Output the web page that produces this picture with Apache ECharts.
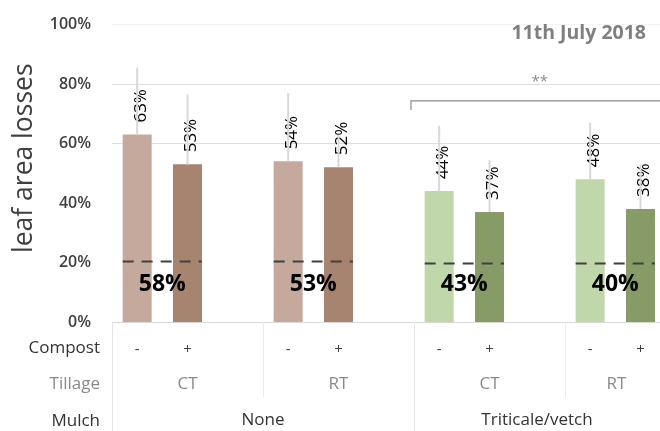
<!DOCTYPE html>
<html>
<head>
<meta charset="utf-8">
<script src="https://cdn.jsdelivr.net/npm/echarts@6/dist/echarts.min.js"></script>
<style>
  html, body { margin: 0; padding: 0; background: #fff; overflow: hidden; }
  /* the last spacer slot runs past the right edge of the window */
  #chart { width: 716px; height: 431px; }
</style>
</head>
<body>
<div id="chart"></div>
<script>
// Slots along the x axis: two bars per tillage group plus one spacer slot
const compost = ['-', '+', '', '-', '+', '', '-', '+', '', '-', '+', ''];
const tillage = ['CT', 'RT', 'CT', 'RT'];
const mulch = ['None', 'Triticale/vetch'];

// Leaf area losses (%) per slot, with the top of each error whisker
const losses = [63, 53, null, 54, 52, null, 44, 37, null, 48, 38, null];
const errorTop = [85.5, 76.5, null, 77, 63, null, 66, 54.5, null, 67, 53, null];
const barColors = ['#c4a99c', '#a6846f', null, '#c4a99c', '#a6846f', null,
                   '#c0d6ab', '#869b65', null, '#c0d6ab', '#869b65', null];

// Per tillage group: dashed reference level and the group summary text
const refLevel = [20.3, 20.3, 19.7, 19.7];
const groupText = ['58%', '53%', '43%', '40%'];
const groupTextLevel = 12.5;

// Significance bracket over the mulched plots
const bracketSlots = [6, 11];
const bracketLevels = [74.3, 71.3];
const sigText = '**';
const sigSlot = 8;
const sigLevel = 80.6;

const yTicks = [0, 20, 40, 60, 80, 100];
const rowHeaders = ['Compost', 'Tillage', 'Mulch'];

const FONT = '"Open Sans", sans-serif';
const BAR_W = 29;
const VIEW_W = 660;   // visible width of the page
const SLOTS_PER_MULCH = compost.length / mulch.length;

const chart = echarts.init(document.getElementById('chart'));
const hidden = chart.getWidth() - VIEW_W;

const barData = losses.map((v, i) => v == null ? null : {
  value: v,
  itemStyle: { color: barColors[i] }
});

const errData = [];
losses.forEach((v, i) => { if (v != null) errData.push([i, v, errorTop[i]]); });

const groupData = refLevel.map((lv, g) => [g, lv, groupTextLevel]);
const mulchData = mulch.map((m, i) => [i * SLOTS_PER_MULCH]);

chart.setOption({
  animation: false,
  title: {
    text: '11th July 2018',
    right: 9 + hidden,
    top: 18,
    textStyle: { fontFamily: FONT, fontSize: 19.5, fontWeight: 'bold', color: '#7f7f7f' }
  },
  grid: { left: 112, right: 0, top: 24.5, bottom: 109 },
  xAxis: [
    {
      type: 'category', data: compost, position: 'bottom',
      axisLine: { show: true, lineStyle: { color: '#d9d9d9', width: 1 } },
      axisTick: { show: false },
      axisLabel: { interval: 0, margin: 20, fontFamily: FONT, fontSize: 15, color: '#404040' }
    },
    {
      type: 'category', data: tillage, position: 'bottom',
      axisLine: { show: false },
      axisTick: { show: true, length: 75, lineStyle: { color: '#ebebeb' } },
      axisLabel: {
        interval: 0, margin: 54, fontFamily: FONT, fontSize: 17, color: '#8a8a8a',
        // the last group is cut by the right edge: centre its label on the visible part
        formatter: (v, i) => i === tillage.length - 1 ? '{s|' + v + '}' : v,
        rich: { s: { fontFamily: FONT, fontSize: 17, color: '#8a8a8a', padding: [0, 48, 0, 0] } }
      }
    },
    {
      type: 'category', data: mulch, position: 'bottom',
      axisLine: { show: false },
      axisTick: { show: true, length: 112, lineStyle: { color: '#e6e6e6' } },
      axisLabel: { show: false }
    }
  ],
  yAxis: {
    type: 'value', min: yTicks[0], max: yTicks[yTicks.length - 1], interval: 20,
    name: 'leaf area losses', nameLocation: 'middle', nameGap: 74,
    nameTextStyle: { fontFamily: FONT, fontSize: 26.5, color: '#404040', padding: [0, 0, 0, 30] },
    axisLine: { show: false }, axisTick: { show: false },
    axisLabel: { margin: 21, fontFamily: FONT, fontSize: 16, fontWeight: 600, color: '#404040', formatter: '{value}%' },
    splitLine: { show: true, lineStyle: { color: ['rgba(0,0,0,0)', 'rgba(0,0,0,0)', 'rgba(0,0,0,0)', '#dedede', '#dedede', '#f3f3f3'], width: 1 } }
  },
  series: [
    {
      type: 'bar', xAxisIndex: 0, data: barData, barWidth: BAR_W, z: 2,
      label: {
        show: true, position: 'top', distance: 12, rotate: 90,
        align: 'left', verticalAlign: 'middle', offset: [0, 4],
        fontFamily: FONT, fontSize: 17, fontWeight: 500, color: '#000',
        formatter: p => p.value + '%'
      }
    },
    {
      // error whiskers above each bar
      type: 'custom', xAxisIndex: 0, data: errData, z: 3,
      renderItem: (params, api) => {
        const a = api.coord([api.value(0), api.value(1)]);
        const b = api.coord([api.value(0), api.value(2)]);
        return { type: 'line', shape: { x1: a[0], y1: a[1], x2: b[0], y2: b[1] },
                 style: { stroke: '#d9d9d9', lineWidth: 2 } };
      }
    },
    {
      // dashed reference line and group summary per tillage group
      type: 'custom', xAxisIndex: 0, data: groupData, z: 4,
      renderItem: (params, api) => {
        const g = api.value(0);
        const l = api.coord([g * 3, api.value(1)]);
        const r = api.coord([g * 3 + 1, api.value(1)]);
        const t = api.coord([g * 3, api.value(2)]);
        const half = BAR_W / 2;
        return {
          type: 'group',
          children: [
            { type: 'line', shape: { x1: l[0] - half, y1: l[1], x2: r[0] + half, y2: r[1] },
              style: { stroke: '#404040', lineWidth: 2, lineDash: [11, 8] } },
            { type: 'text', x: (l[0] + r[0]) / 2, y: t[1],
              style: { text: groupText[g], fontFamily: FONT, fontSize: 23, fontWeight: 'bold',
                       fill: '#000', align: 'center', verticalAlign: 'middle' } }
          ]
        };
      }
    },
    {
      // mulch row labels, centred on the visible span of each mulch block
      type: 'custom', xAxisIndex: 0, data: mulchData, z: 4, clip: false,
      renderItem: (params, api) => {
        const band = api.size([1, 0])[0];
        const p = api.coord([api.value(0), 0]);
        const left = p[0] - band / 2;
        const right = Math.min(left + SLOTS_PER_MULCH * band, VIEW_W);
        return {
          type: 'text', x: (left + right) / 2, y: p[1] + 98,
          style: { text: mulch[params.dataIndex], fontFamily: FONT, fontSize: 17, fill: '#333',
                   align: 'center', verticalAlign: 'middle' }
        };
      }
    },
    {
      // significance bracket
      type: 'custom', xAxisIndex: 0, data: [[bracketSlots[0], bracketSlots[1]]], z: 4,
      clip: false,
      renderItem: (params, api) => {
        const band = api.size([1, 0])[0];
        const x0 = api.coord([bracketSlots[0], bracketLevels[0]])[0] - band / 2 - 3;
        const x1 = api.coord([bracketSlots[1], bracketLevels[0]])[0] + band / 2;
        const yTop = api.coord([bracketSlots[0], bracketLevels[0]])[1];
        const yDrop = api.coord([bracketSlots[0], bracketLevels[1]])[1];
        const s = api.coord([sigSlot, sigLevel]);
        return {
          type: 'group',
          children: [
            { type: 'polyline', shape: { points: [[x0, yDrop], [x0, yTop], [x1, yTop]] },
              style: { stroke: '#8c8c8c', lineWidth: 1.2, fill: null } },
            { type: 'text', x: s[0], y: s[1],
              style: { text: sigText, fontFamily: FONT, fontSize: 15, fill: '#8c8c8c',
                       align: 'center', verticalAlign: 'middle' } }
          ]
        };
      }
    }
  ],
  graphic: rowHeaders.map((t, i) => ({
    type: 'text', right: 560 + hidden, top: [340, 376, 413][i],
    style: { text: t, fontFamily: FONT, fontSize: 17, fill: i === 1 ? '#8a8a8a' : '#333' }
  }))
});
</script>
</body>
</html>
